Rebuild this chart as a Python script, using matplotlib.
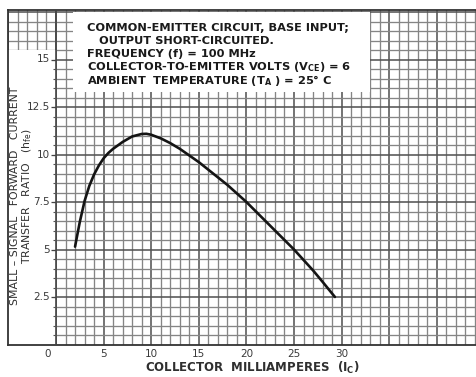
import matplotlib.pyplot as plt
import numpy as np
from matplotlib.patches import Rectangle

# hfe vs collector current
ic_ma = [2, 2.5, 3, 3.5, 4, 4.5, 5, 5.5, 6, 7, 8, 9, 9.5, 10, 11, 12, 13, 14, 15,
         16, 17, 18, 19, 20, 21, 22, 23, 24, 25, 26, 27, 28, 29.3]
hfe = [5.15, 6.45, 7.55, 8.35, 8.95, 9.42, 9.8, 10.08, 10.3, 10.66, 10.95, 11.08,
       11.09, 11.04, 10.85, 10.6, 10.3, 9.95, 9.6, 9.2, 8.8, 8.4, 7.95, 7.5, 7.0,
       6.5, 6.0, 5.5, 5.0, 4.45, 3.9, 3.3, 2.5]

x_ticks = [0, 5, 10, 15, 20, 25, 30]
y_ticks = [2.5, 5, 7.5, 10, 12.5, 15]
y_tick_labels = ['2.5', '5', '7.5', '10', '12.5', '15']

notes = [
    'COMMON-EMITTER CIRCUIT, BASE INPUT;',
    '   OUTPUT SHORT-CIRCUITED.',
    'FREQUENCY (f) = 100 MHz',
    r'COLLECTOR-TO-EMITTER VOLTS ($\mathbf{V_{CE}}$) = 6',
    r'AMBIENT  TEMPERATURE ($\mathbf{T_A}$ ) = 25° C',
]

W, H = 477, 377
fig = plt.figure(figsize=(W / 100, H / 100), dpi=100)
fig.patch.set_facecolor('white')

# graph paper: 1 mA and 0.5 hfe per small square
x0_px, y0_px, top_px, left_px = 56, 344.5, 10, 8
ppx = 9.52
ppy = 19.0
ax = fig.add_axes([left_px / W, 1 - y0_px / H, (W - left_px) / W, (y0_px - top_px) / H])
xmin = -(x0_px - left_px) / ppx
xmax = (W - x0_px) / ppx
ymax = (y0_px - top_px) / ppy
ax.set_xlim(xmin, xmax)
ax.set_ylim(0, ymax)
ax.set_xticks([])
ax.set_yticks([])
for s in ['left', 'bottom', 'top']:
    ax.spines[s].set_color('#333333')
    ax.spines[s].set_linewidth(1.3)
ax.spines['right'].set_visible(False)

minor_c, major_c = '#858585', '#555555'
for xv in np.arange(-5, 45, 1):
    major = xv % 5 == 0
    ax.axvline(xv, color=major_c if major else minor_c,
               lw=1.15 if major else 0.95, zorder=1)
for yv in np.arange(0.5, ymax, 0.5):
    major = abs(yv / 2.5 - round(yv / 2.5)) < 1e-6
    ax.axhline(yv, color=major_c if major else minor_c,
               lw=1.15 if major else 0.95, zorder=1)

# blank strip for the vertical scale
panel_top = 15.5
ax.add_patch(Rectangle((xmin, 0), -xmin, panel_top, facecolor='white',
                       edgecolor='none', zorder=2))
ax.plot([0, 0], [0, ymax], color='#444444', lw=1.2, zorder=3)
ax.hlines(np.arange(0.5, panel_top, 0.5), -0.35, 0, color='#555555', lw=0.8, zorder=3)
ax.hlines(y_ticks, -0.55, 0, color='#444444', lw=0.9, zorder=3)

tick_font = dict(family='DejaVu Sans', fontsize=7.5, color='#3a3a3a')
for v, lbl in zip(y_ticks, y_tick_labels):
    ax.annotate(lbl, (0, v), xytext=(-4.5, 0), textcoords='offset points',
                ha='right', va='center', zorder=4, **tick_font)
for v in x_ticks:
    ax.annotate(str(v), (v, 0), xytext=(-6 if v == 0 else 0, -6.5),
                textcoords='offset points', ha='center', va='center',
                annotation_clip=False, **tick_font)

# the curve
ax.plot(ic_ma, hfe, color='#141414', lw=1.9, solid_capstyle='round',
        solid_joinstyle='round', zorder=5)

# test-condition box
bx0 = (73 - x0_px) / ppx
bx1 = (370 - x0_px) / ppx
by0 = (y0_px - 92) / ppy
ax.add_patch(Rectangle((bx0, by0), bx1 - bx0, ymax - by0 - 0.1, facecolor='white',
                       edgecolor='none', zorder=6))
note_y = [28, 41, 54, 67, 80]
for txt, yp in zip(notes, note_y):
    fig.text(87 / W, 1 - yp / H, txt, ha='left', va='center', fontsize=8.2,
             fontweight='bold', family='DejaVu Sans', color='#1a1a1a', zorder=7)

# axis titles
lab_font = dict(family='DejaVu Sans', color='#2f2f2f')
fig.text(15 / W, 1 - 196 / H, 'SMALL – SIGNAL   FORWARD   CURRENT', rotation=90,
         ha='center', va='center', fontsize=7.8, **lab_font)
fig.text(27 / W, 1 - 196 / H, r'TRANSFER   RATIO   ($\mathrm{h_{fe}}$)', rotation=90,
         ha='center', va='center', fontsize=7.8, **lab_font)
fig.text(252 / W, 1 - 368 / H, r'COLLECTOR  MILLIAMPERES  ($\mathbf{I_C}$)',
         ha='center', va='center', fontsize=8.5, fontweight='bold', **lab_font)

fig.savefig('out.png', dpi=100)
